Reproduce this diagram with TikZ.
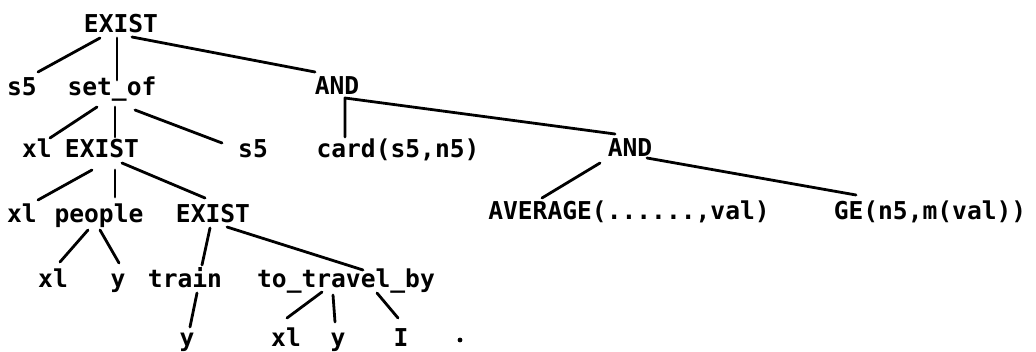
\documentclass[tikz,border=0pt]{standalone}
\usepackage{fontspec}
\newfontfamily\treemono{DejaVu Sans Mono Bold}
\newcommand\ep[3]{([shift={(#2,#3)}]#1.base)}
\begin{document}
\begin{tikzpicture}[x=0.5pt,y=-0.5pt,
  lbl/.style={anchor=base,inner sep=0pt,font=\treemono\fontsize{12.3pt}{14pt}\selectfont},
  conn/.style={line width=1.4pt,line cap=round,line join=round}]
\useasboundingbox (0,0) rectangle (1036,352);
% row 1
\node[lbl] (exA) at (121,33) {EXIST};
% row 2
\node[lbl] (s5a) at (22,96) {s5};
\node[lbl] (setof) at (112,96) {set\_of};
\node[lbl] (andA) at (337,95) {AND};
% row 3
\node[lbl] (x1a) at (37,158) {xl};
\node[lbl] (exB) at (102,158) {EXIST};
\node[lbl] (s5b) at (253,158) {s5};
\node[lbl] (card) at (398,158) {card(s5,n5)};
\node[lbl] (andB) at (630,157) {AND};
% row 4
\node[lbl] (x1b) at (22,222) {xl};
\node[lbl] (people) at (99,222) {people};
\node[lbl] (exC) at (213,222) {EXIST};
\node[lbl] (avg) at (629,220) {AVERAGE(......,val)};
\node[lbl] (ge) at (930,220) {GE(n5,m(val))};
% row 5
\node[lbl] (x1c) at (53,287) {xl};
\node[lbl] (ya) at (118,287) {y};
\node[lbl] (train) at (185,287) {train};
\node[lbl] (ttb) at (346,287) {to\_travel\_by};
% row 6
\node[lbl] (yb) at (187,346) {y};
\node[lbl] (x1d) at (286,346) {xl};
\node[lbl] (yc) at (338,346) {y};
\node[lbl] (I) at (401,346) {I};
\fill (460,340) circle (2.4);
% connectors
\draw[conn] \ep{exA}{-21}{5} -- \ep{s5a}{16}{-24};
\draw[conn] \ep{exA}{-4}{5} -- \ep{setof}{5}{-16};
\draw[conn] \ep{exA}{11}{4} -- \ep{andA}{-22}{-23};
\draw[conn] \ep{setof}{-15}{11} -- \ep{x1a}{13}{-20};
\draw[conn] \ep{setof}{3}{11} -- \ep{exB}{13}{-21};
\draw[conn] \ep{setof}{23}{14} -- \ep{s5b}{-31}{-15};
\draw[conn] \ep{card}{-53}{-21} -- \ep{andA}{8}{3} -- \ep{andB}{-15}{-23};
\draw[conn] \ep{andB}{-30}{6} -- \ep{avg}{-87}{-22};
\draw[conn] \ep{andB}{17}{1} -- \ep{ge}{-74}{-25};
\draw[conn] \ep{exB}{-10}{12} -- \ep{x1b}{16}{-22};
\draw[conn] \ep{exB}{13}{12} -- \ep{people}{16}{-25};
\draw[conn] \ep{exB}{20}{5} -- \ep{exC}{-8}{-24};
\draw[conn] \ep{people}{-11}{8} -- \ep{x1c}{7}{-25};
\draw[conn] \ep{people}{1}{8} -- \ep{ya}{1}{-24};
\draw[conn] \ep{exC}{-3}{6} -- \ep{train}{17}{-22};
\draw[conn] \ep{exC}{14}{5} -- \ep{ttb}{17}{-17};
\draw[conn] \ep{train}{12}{6} -- \ep{yb}{3}{-19};
\draw[conn] \ep{ttb}{-24}{5} -- \ep{x1d}{1}{-28};
\draw[conn] \ep{ttb}{-13}{8} -- \ep{yc}{-3}{-24};
\draw[conn] \ep{ttb}{31}{6} -- \ep{I}{-3}{-28};
\end{tikzpicture}
\end{document}
